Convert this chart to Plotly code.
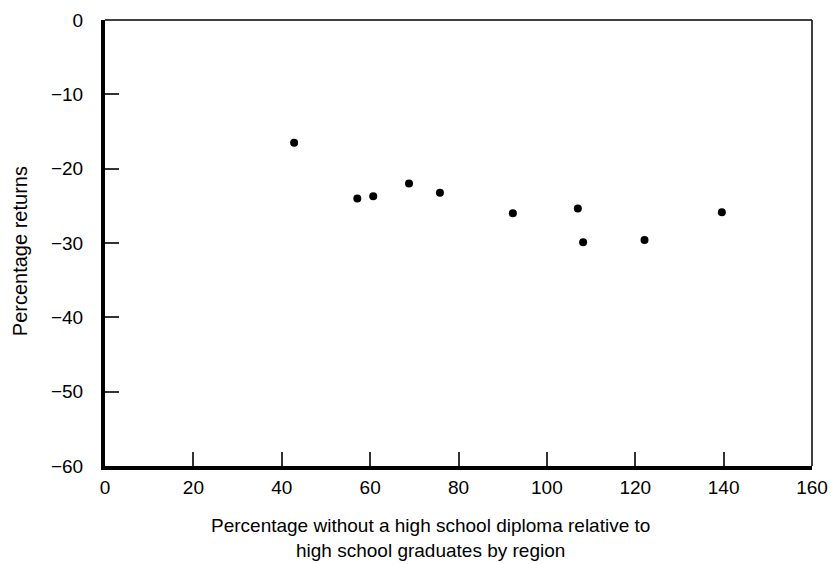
import plotly.graph_objects as go

x_vals = [42.8, 57.1, 60.7, 68.8, 75.8, 92.3, 107.0, 108.2, 122.1, 139.6]
y_vals = [-16.5, -24.0, -23.7, -22.0, -23.25, -26.0, -25.35, -29.9, -29.6, -25.85]
x_ticks = [0, 20, 40, 60, 80, 100, 120, 140, 160]
y_ticks = [0, -10, -20, -30, -40, -50, -60]

FONT = "Liberation Sans, Arial, sans-serif"

W, H = 831, 564
L, T = 105, 20
PR, PB = 812, 466  # plot right / bottom in pixels

fig = go.Figure(go.Scatter(x=x_vals, y=y_vals, mode="markers",
                           marker=dict(color="black", size=8), hoverinfo="x+y"))

fig.update_layout(
    width=W, height=H,
    margin=dict(l=L, r=W - PR, t=T, b=H - PB),
    plot_bgcolor="white", paper_bgcolor="white",
    showlegend=False,
    font=dict(family=FONT, size=19, color="black"),
    xaxis=dict(range=[0, 160], tickvals=x_ticks, ticks="inside", ticklen=14,
               tickwidth=1.5, tickcolor="#333", showgrid=False, zeroline=False,
               showline=True, linewidth=4, linecolor="black", automargin=False,
               tickfont=dict(size=19), ticklabelstandoff=1),
    yaxis=dict(range=[-60, 0], tickvals=y_ticks, ticks="inside", ticklen=14,
               tickwidth=1.5, tickcolor="#333", showgrid=False, zeroline=False,
               showline=True, linewidth=4, linecolor="black", automargin=False,
               tickfont=dict(size=19), ticklabelstandoff=14),
    shapes=[
        dict(type="line", xref="paper", yref="paper", x0=0, x1=1, y0=1, y1=1,
             line=dict(color="black", width=1.5)),
        dict(type="line", xref="paper", yref="paper", x0=1, x1=1, y0=0, y1=1,
             line=dict(color="black", width=1.5)),
    ],
    annotations=[
        dict(text="Percentage without a high school diploma relative to<br>high school graduates by region",
             xref="paper", yref="paper", x=(430 - L) / (PR - L), y=-0.105,
             xanchor="center", yanchor="top", showarrow=False,
             font=dict(family=FONT, size=19), align="center"),
        dict(text="Percentage returns", xref="paper", yref="paper",
             x=-0.120, y=0.482, xanchor="center", yanchor="middle",
             textangle=-90, showarrow=False, font=dict(family=FONT, size=20)),
    ],
)

fig.write_html(
    "out.html",
    config={"displayModeBar": False},
    post_script="document.body.style.margin='0';document.body.style.overflow='hidden';",
)
